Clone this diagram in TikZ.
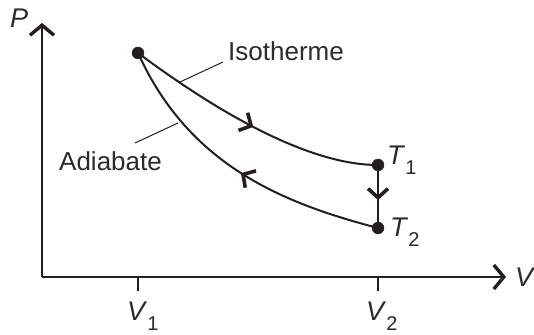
\documentclass[tikz,border=0pt]{standalone}
\usepackage{fontspec}
\setmainfont{Liberation Sans}
\usetikzlibrary{arrows.meta, positioning, decorations.markings}
\definecolor{pvline}{HTML}{231F20}
\definecolor{pvtext}{HTML}{2B2B2B}
\newcommand{\pvsub}[2]{\textit{#1}\raisebox{-10pt}{\fontsize{20}{20}\selectfont #2}}
\tikzset{chev/.tip={Straight Barb[length=9pt, width=20pt, line width=3.6pt]}}

\begin{document}
\begin{tikzpicture}[x=1pt, y=1pt,
    axis/.style={line width=2.2pt, pvline, -{Straight Barb[length=10pt, width=24pt, line width=3.4pt]}},
    curve/.style={line width=2pt, pvline},
    lead/.style={line width=1pt, pvline},
    tick/.style={line width=2pt, pvline},
    dot/.style={circle, fill=pvline, draw=pvline, inner sep=0pt, minimum size=12pt},
    lbl/.style={inner sep=0pt, text=pvtext, font=\fontsize{26}{30}\selectfont},
    sym/.style={inner sep=0pt, anchor=base west, text=pvtext, font=\fontsize{27}{30}\selectfont},
    midarrow/.style={postaction={decorate}, decoration={markings,
        mark=at position #1 with {\arrow{chev}}}},
    midarrowrev/.style={postaction={decorate}, decoration={markings,
        mark=at position #1 with {\arrowreversed{chev}}}}
  ]
    \useasboundingbox (0,0) rectangle (534,334);
    % axes
    \coordinate (O) at (42,57);
    \coordinate (Ptip) at (42,311);
    \coordinate (Vtip) at (506,57);
    \draw[axis] (O) -- (Ptip);
    \draw[axis] (O) -- (Vtip);
    \node[sym] (Plbl) at (10,306) {\textit{P}};
    \node[sym] (Vlbl) at (515,47) {\textit{V}};
    % ticks
    \coordinate (V1) at (138,57);
    \coordinate (V2) at (378,57);
    \draw[tick] (V1) -- ++(0,-14);
    \draw[tick] (V2) -- ++(0,-14);
    \node[sym] (V1lbl) at (127,14) {\pvsub{V}{1}};
    \node[sym] (V2lbl) at (366,14) {\pvsub{V}{2}};
    % states
    \node[dot] (A) at (138,281) {};
    \node[dot] (T1) at (378,169) {};
    \node[dot] (T2) at (378,106) {};
    \node[sym] (T1lbl) at (387,169) {\pvsub{T}{1}};
    \node[sym] (T2lbl) at (390,97) {\pvsub{T}{2}};
    % processes
    \draw[curve, midarrow=0.51] (A.center) .. controls (200,235) and (300,169) .. (T1.center);
    \draw[curve, midarrowrev=0.52] (A.center) .. controls (188,171) and (278,132) .. (T2.center);
    \draw[curve, midarrow=0.57] (T1) -- (T2);
    % labels
    \node[lbl] (isolbl) at (286,283) {Isotherme};
    \node[lbl] (adilbl) at (110.5,173) {Adiabate};
    \coordinate (isopt) at (180,252);
    \coordinate (isoend) at (223,272);
    \coordinate (adipt) at (178,211);
    \coordinate (adiend) at (135,191);
    \draw[lead] (isoend) -- (isopt);
    \draw[lead] (adiend) -- (adipt);
  \end{tikzpicture}
\end{document}
